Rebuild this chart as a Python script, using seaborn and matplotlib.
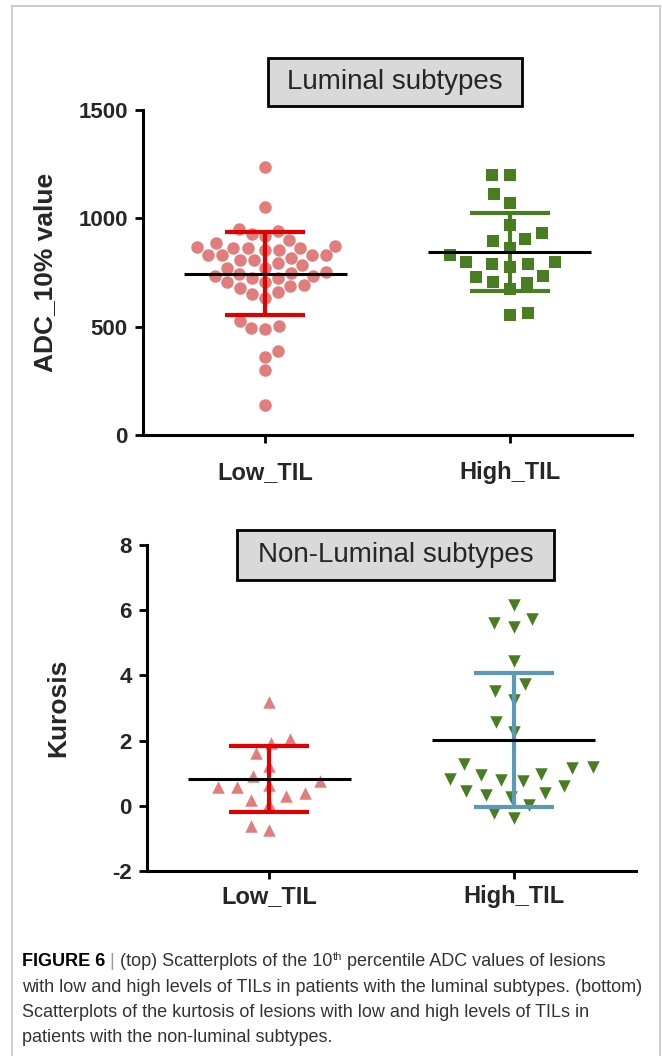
import numpy as np
import pandas as pd
import matplotlib
matplotlib.use('Agg')
import matplotlib.pyplot as plt
from matplotlib.patches import Rectangle
import seaborn as sns

groups = ['Low_TIL', 'High_TIL']

# ADC 10% value, luminal subtypes
lum_low = [1235, 1054, 941, 918, 929, 952, 900, 884, 867, 861, 856, 872, 864, 861, 852,
           829, 829, 829, 829, 818, 806, 807, 795, 784, 772, 772, 751, 745, 736, 748, 736,
           725, 707, 725, 707, 690, 679, 687, 653, 633, 659, 501, 489, 494, 525,
           360, 388, 298, 139]
lum_high = [1199, 1202, 1111, 1073, 968, 934, 895, 864, 906, 833, 798, 790, 775, 787, 798,
            730, 702, 675, 707, 736, 556, 563]

# kurtosis, non-luminal subtypes
non_low = [3.18, 1.94, 2.04, 1.61, 1.22, 0.91, 0.75, 0.58, 0.39, 0.58, 0.65, 0.19, 0.29,
           0.06, -0.74, -0.62]
non_high = [6.17, 5.74, 5.47, 5.6, 4.44, 3.75, 3.51, 3.26, 2.56, 2.27, 1.27, 1.17, 0.99,
            0.93, 1.19, 0.83, 0.75, 0.62, 0.80, 0.46, 0.32, 0.27, 0.39, 0.03, -0.36, -0.23]

pink = '#e27d7d'
green = '#4a7d22'
red = '#e00000'
blue = '#5b9ab6'

sns.set_style('white')
plt.rcParams['font.family'] = ['Liberation Sans', 'DejaVu Sans']
plt.rcParams['axes.unicode_minus'] = False

fig = plt.figure(figsize=(6.62, 10.56), dpi=100)
W, H = 662, 1056

ax1 = fig.add_axes([143 / W, 1 - 435 / H, 489 / W, 325 / H])
ax2 = fig.add_axes([147 / W, 1 - 871 / H, 489 / W, 326 / H])

# swarms laid out with a spacing size, then shrunk to the real marker size
shrink = []


def panel(ax, low, high, markers, colors, bar_colors, spacing, sizes):
    df = pd.DataFrame({'group': ['Low_TIL'] * len(low) + ['High_TIL'] * len(high),
                       'value': low + high})
    for i, g in enumerate(groups):
        sub = df[df['group'] == g]
        n0 = len(ax.collections)
        sns.swarmplot(data=sub, x='group', y='value', order=groups, marker=markers[i],
                      color=colors[i], size=spacing[i], linewidth=0, ax=ax, zorder=3)
        for c in ax.collections[n0:]:
            shrink.append((c, sizes[i]))
        m = sub['value'].mean()
        sd = sub['value'].std()
        ax.errorbar(i, m, yerr=sd, fmt='none', ecolor=bar_colors[i], elinewidth=3,
                    capsize=29, capthick=3, zorder=4)
        ax.hlines(m, i - 0.333, i + 0.333, color='black', lw=2.2, zorder=5)
    ax.set_xlim(-0.5, 1.5)
    ax.set_xlabel('')
    sns.despine(ax=ax)
    for s in ['left', 'bottom']:
        ax.spines[s].set_linewidth(2.2)
        ax.spines[s].set_color('black')
    ax.tick_params(axis='y', length=6, width=2, labelsize=16, pad=5, left=True,
                   direction='out', color='black')
    ax.set_xticks([0, 1])
    ax.set_xticklabels(groups)


panel(ax1, lum_low, lum_high, ['o', 's'], [pink, green], [red, green], [9.5, 12.5], [9, 9.3])
ax1.set_ylim(0, 1500)
ax1.set_yticks([0, 500, 1000, 1500])
ax1.tick_params(axis='x', length=6, width=2, labelsize=17, pad=13, bottom=True,
                direction='out', color='black')
ax1.set_ylabel('ADC_10% value', fontsize=19, fontweight='bold')
ax1.yaxis.set_label_coords(-0.176, 0.5)

panel(ax2, non_low, non_high, ['^', 'v'], [pink, green], [red, blue], [13, 14], [9, 9])
ax2.set_ylim(-2, 8)
ax2.set_yticks([-2, 0, 2, 4, 6, 8])
ax2.tick_params(axis='x', length=6, width=2, labelsize=17, pad=4, bottom=True,
                direction='out', color='black')
ax2.set_ylabel('Kurosis', fontsize=19, fontweight='bold')
ax2.yaxis.set_label_coords(-0.156, 0.5)

for ax in (ax1, ax2):
    plt.setp(ax.get_xticklabels(), fontweight='bold')
    plt.setp(ax.get_yticklabels(), fontweight='bold')

# panel titles in grey boxes
for (x0, x1, y0, y1, txt) in [(268, 522, 58, 106, 'Luminal subtypes'),
                              (237, 554, 530, 580, 'Non-Luminal subtypes')]:
    fig.add_artist(Rectangle((x0 / W, 1 - y1 / H), (x1 - x0) / W, (y1 - y0) / H,
                             transform=fig.transFigure, fc='#d9d9d9', ec='black', lw=2))
    fig.text((x0 + x1) / 2 / W, 1 - (y0 + y1) / 2 / H, txt, fontsize=20,
             ha='center', va='center')

# outer frame
fig.add_artist(Rectangle((12 / W, -0.02), (660 - 12) / W, 1 - 6 / H + 0.02,
                         transform=fig.transFigure, fill=False, ec='#c8c8c8', lw=1.3))

# caption
cap_font = ['Liberation Sans']
cs = 13
cc = '#333333'
x0 = 22 / W
t = fig.text(x0, 1 - 966 / H, 'FIGURE 6', fontsize=cs, fontweight='bold',
             family=cap_font, color='black', va='baseline')
t = ax2.annotate(' | ', xy=(1, 0), xycoords=t, va='bottom', ha='left', fontsize=cs,
                 family=cap_font, color='#9a9a9a', annotation_clip=False)
t = ax2.annotate('(top) Scatterplots of the 10', xy=(1, 0), xycoords=t, va='bottom',
                 ha='left', fontsize=cs, family=cap_font, color=cc, annotation_clip=False)
th = ax2.annotate('th', xy=(1, 0), xycoords=t, xytext=(0.5, 6), textcoords='offset points',
                  va='bottom', ha='left', fontsize=cs * 0.62, family=cap_font, color=cc,
                  annotation_clip=False)
ax2.annotate(' percentile ADC values of lesions', xy=(1, 0), xycoords=(th, t), va='bottom',
             ha='left', fontsize=cs, family=cap_font, color=cc, annotation_clip=False)

lines = ['with low and high levels of TILs in patients with the luminal subtypes. (bottom)',
         'Scatterplots of the kurtosis of lesions with low and high levels of TILs in',
         'patients with the non-luminal subtypes.']
for k, line in enumerate(lines):
    fig.text(x0, 1 - (991.5 + 25.5 * k) / H, line, fontsize=cs, family=cap_font,
             color=cc, va='baseline')

# lay out the swarms once, then freeze positions and shrink the markers
fig.canvas.draw()
for c, s in shrink:
    if 'draw' in c.__dict__:
        del c.draw
    c.set_sizes([s ** 2])

fig.savefig('out.png', dpi=100, facecolor='white')
